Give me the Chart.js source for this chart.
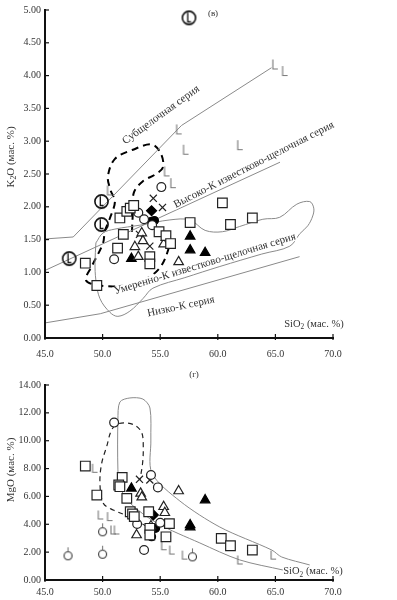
<!DOCTYPE html>
<html><head><meta charset="utf-8">
<script src="https://cdn.jsdelivr.net/npm/chart.js@4.4.0/dist/chart.umd.min.js"></script>
<style>
html,body{margin:0;padding:0;background:#fff;width:397px;height:600px;overflow:hidden}
#c1{position:absolute;left:0;top:0}
#c2{position:absolute;left:0;top:365px}
</style></head><body>
<canvas id="c1" width="397" height="365"></canvas>
<canvas id="c2" width="397" height="235"></canvas>
<script>
// ---------- DATA ----------
const xTicks = [45, 50, 55, 60, 65, 70];
const k2oTicks = [0, 0.5, 1, 1.5, 2, 2.5, 3, 3.5, 4, 4.5, 5];
const mgoTicks = [0, 2, 4, 6, 8, 10, 12, 14];

// Panel (в): K2O vs SiO2
const k2oSquares = [[48.5,1.14],[49.5,0.80],[51.3,1.37],[51.5,1.83],[51.8,1.58],[52.1,1.93],[52.4,1.98],[52.7,2.02],[54.1,1.24],[54.1,1.13],[54.9,1.62],[55.5,1.56],[55.9,1.44],[57.6,1.76],[60.4,2.06],[61.1,1.73],[63.0,1.83]];
const k2oCircles = [[51.0,1.20],[53.1,1.91],[53.6,1.81],[54.3,1.72],[55.1,2.30]];
const k2oCircleL = [[47.1,1.21],[49.9,2.08],[49.9,1.73],[57.5,4.88]];
const k2oTriOpen = [[52.8,1.39],[53.1,1.24],[53.4,1.60],[53.5,1.48],[55.3,1.43],[55.5,1.53],[56.6,1.16]];
const k2oTriFilled = [[52.5,1.21],[57.6,1.55],[57.6,1.34],[58.9,1.30]];
const k2oDiamond = [[54.25,1.94]];
const k2oDots = [[54.25,1.78],[54.5,1.79]];
const k2oCross = [[54.4,2.13],[55.2,1.99],[54.1,1.40],[53.2,1.58]];
const k2oL = [[50.6,2.25],[55.55,2.54],[56.1,2.36],[56.6,3.18],[57.2,2.87],[61.9,2.94],[64.95,4.17],[65.8,4.07]];

const subalkLine = [[45,1.51],[47.45,1.54],[56.85,3.24],[64.66,4.12]];
const highKLine = [[45,1.03],[65.4,2.68]];
const lowKLine = [[45,0.23],[49.8,0.37],[67.1,1.24]];
const k2oField = [[49.42,1.45],[50.03,1.60],[51.07,1.66],[53.24,1.72],[55.84,1.80],[57.58,1.80],[58.9,1.64],[60.4,1.62],[61.9,1.70],[63.91,1.81],[65.38,1.84],[66.86,2.04],[67.98,2.08],[68.33,1.98],[68.24,1.86],[67.81,1.71],[67.12,1.59],[66.25,1.40],[63.82,1.28],[60.18,1.09],[57.14,0.92],[54.37,0.76],[53.50,0.60],[52.37,0.41],[51.33,0.33],[50.64,0.39],[49.77,0.60],[49.42,0.88],[49.34,1.15],[49.42,1.45]];
const k2oDash = [[52.55,1.62],[52.63,1.93],[52.72,2.22],[53.50,2.39],[54.54,2.49],[55.23,2.60],[55.06,2.81],[54.28,2.95],[52.63,2.87],[51.07,2.73],[50.46,2.46],[50.70,2.25],[51.07,2.08],[50.64,1.83],[50.20,1.63],[50.03,1.44],[49.08,1.10],[48.56,0.88],[49.77,0.80],[51.94,0.80],[53.85,0.91],[54.97,1.07],[55.67,1.33],[55.84,1.56]];

// Panel (г): MgO vs SiO2
const mgoSquares = [[48.5,8.18],[49.5,6.10],[51.7,7.37],[51.4,6.82],[51.5,6.70],[52.1,5.86],[52.4,4.90],[52.6,4.74],[52.75,4.55],[54.0,4.90],[54.1,3.71],[54.1,3.23],[55.5,3.10],[55.8,4.05],[60.3,2.99],[61.1,2.46],[63.0,2.15]];
const mgoCircles = [[51.0,11.3],[53.0,4.02],[53.6,2.15],[54.2,7.54],[54.8,6.65],[55.0,4.11]];
const mgoCircleL = [[47.0,1.92],[50.0,2.03],[50.0,3.64],[57.8,1.84]];
const mgoTriOpen = [[53.3,6.22],[53.4,5.95],[55.3,5.26],[55.4,4.83],[52.95,3.23],[54.2,3.88],[56.6,6.39]];
const mgoTriFilled = [[52.5,6.58],[57.6,3.95],[57.6,3.80],[58.9,5.74]];
const mgoDiamond = [[54.4,4.67]];
const mgoDots = [[54.6,3.71],[54.25,3.11]];
const mgoCross = [[53.2,7.23],[54.1,7.18]];
const mgoL = [[49.3,8.02],[49.8,4.67],[50.6,4.55],[50.9,3.59],[51.2,3.59],[55.3,2.46],[56.0,2.15],[57.1,1.79],[61.9,1.44],[64.8,1.79]];

const mgoField = [[65.64,0.72],[61.91,1.44],[58.44,2.66],[54.71,4.09],[52.37,5.53],[51.50,6.68],[51.33,7.90],[51.33,11.49],[51.50,12.78],[52.37,13.07],[53.50,12.99],[54.11,12.35],[54.19,10.05],[54.28,7.68],[56.71,5.67],[60.18,3.80],[64.69,2.15],[65.55,1.65],[67.98,1.08]];
const mgoDash = [[53.82,3.83],[52.66,4.43],[50.92,5.03],[50.06,5.51],[49.77,6.94],[49.92,8.38],[50.35,9.57],[50.78,10.77],[51.33,11.20],[52.11,11.27],[52.89,11.06],[53.41,10.55],[53.53,9.57],[53.47,8.38],[53.24,7.18]];

// text labels anchored in data coords
const k2oSeriesLabels = [
  {text:'Субщелочная серия', x:55.06, y:3.40, angle:-36},
  {text:'Высоко-К известково-щелочная серия', x:63.13, y:2.64, angle:-27},
  {text:'Умеренно-К известково-щелочная серия', x:58.88, y:1.13, angle:-17},
  {text:'Низко-К серия', x:56.80, y:0.48, angle:-12}
];

// ---------- RENDERING ----------
const serif = "'Liberation Serif','Times New Roman',serif";
Chart.defaults.font.family = serif;

function lGlyph(h){
  const c=document.createElement('canvas'); c.width=8; c.height=h+4;
  const g=c.getContext('2d'); g.strokeStyle='#777'; g.lineWidth=1.1;
  g.beginPath(); g.moveTo(2,2); g.lineTo(2,h+1.5); g.lineTo(7,h+1.5); g.stroke();
  return c;
}
function circleLBig(){
  const c=document.createElement('canvas'); c.width=17; c.height=17;
  const g=c.getContext('2d'); g.strokeStyle='#111'; g.lineWidth=1.6;
  g.beginPath(); g.arc(8.5,8.5,6.6,0,Math.PI*2); g.stroke();
  g.lineWidth=1.3; g.beginPath(); g.moveTo(7.3,3.2); g.lineTo(7.3,12.5); g.lineTo(10.5,12.5); g.stroke();
  return c;
}
function circleLSmall(){
  const c=document.createElement('canvas'); c.width=11; c.height=16;
  const g=c.getContext('2d'); g.strokeStyle='#333'; g.lineWidth=1.1;
  g.beginPath(); g.arc(5.5,10.5,4,0,Math.PI*2); g.stroke();
  g.strokeStyle='#777'; g.beginPath(); g.moveTo(5.5,2); g.lineTo(5.5,6.5); g.stroke();
  return c;
}
const pts = a => a.map(p=>({x:p[0], y:p[1]}));
function mark(data, style, o){
  return Object.assign({data:pts(data), pointStyle:style, showLine:false, order:0,
    pointBorderColor:'#222', pointBackgroundColor:'#fff', pointBorderWidth:1.2}, o);
}
function curve(data, o){
  return Object.assign({data:pts(data), showLine:true, pointRadius:0, order:1, isCurve:true,
    borderColor:'#8a8a8a', borderWidth:1, tension:0, fill:false}, o);
}
function subText(ctx, parts, size){
  // returns width; draws from x=0 baseline middle
  let w=0;
  parts.forEach(p=>{ctx.font=(p.sub?size*0.7:size)+'px '+serif; w+=ctx.measureText(p.t).width;});
  let x=-w/2;
  parts.forEach(p=>{ctx.font=(p.sub?size*0.7:size)+'px '+serif; ctx.fillText(p.t,x,p.sub?size*0.3:0); x+=ctx.measureText(p.t).width;});
}
function makePlugin(cfg){
  let drawn=0;
  return {
    id:'annot'+cfg.id,
    beforeDatasetsDraw(){drawn=0;},
    afterDatasetDraw(chart,args){
      const d=chart.data.datasets[args.index];
      if(!d.isCurve) return;
      drawn++;
      const total=chart.data.datasets.filter(z=>z.isCurve).length;
      if(drawn!==total) return;
      const ctx=chart.ctx, xs=chart.scales.x, ys=chart.scales.y;
      (cfg.labels||[]).forEach(l=>{
        ctx.save();
        ctx.translate(xs.getPixelForValue(l.x), ys.getPixelForValue(l.y));
        ctx.rotate(l.angle*Math.PI/180);
        ctx.font='11px '+serif; ctx.textAlign='left'; ctx.textBaseline='middle';
        const w=ctx.measureText(l.text).width;
        ctx.fillStyle='#fff'; ctx.fillRect(-w/2-1,-4.5,w+2,9);
        ctx.fillStyle='#333'; ctx.fillText(l.text,-w/2,0);
        ctx.restore();
      });
    },
    afterDraw(chart){
      const ctx=chart.ctx, a=chart.chartArea, xs=chart.scales.x, ys=chart.scales.y;
      ctx.save();
      ctx.strokeStyle='#111'; ctx.lineWidth=2;
      ctx.beginPath(); ctx.moveTo(a.left,a.top-1); ctx.lineTo(a.left,a.bottom); ctx.lineTo(a.right+1,a.bottom); ctx.stroke();
      ctx.lineWidth=1.2;
      cfg.yTicks.forEach(v=>{const y=ys.getPixelForValue(v); ctx.beginPath(); ctx.moveTo(a.left-1,y); ctx.lineTo(a.left+4,y); ctx.stroke();});
      xTicks.forEach(v=>{const x=xs.getPixelForValue(v); ctx.beginPath(); ctx.moveTo(x,a.bottom+2); ctx.lineTo(x,a.bottom-4); ctx.stroke();});
      ctx.fillStyle='#333'; ctx.textBaseline='middle';
      // y title
      ctx.save(); ctx.translate(11, cfg.yTitleY); ctx.rotate(-Math.PI/2);
      subText(ctx, cfg.yTitle, 11); ctx.restore();
      // x title inside plot
      ctx.save(); ctx.translate(cfg.xTitlePos[0], cfg.xTitlePos[1]);
      subText(ctx, [{t:'SiO'},{t:'2',sub:true},{t:' (мас. %)'}], 10.5); ctx.restore();
      // panel label
      ctx.font='9px '+serif; ctx.textAlign='center';
      ctx.fillText(cfg.panel, cfg.panelPos[0], cfg.panelPos[1]);
      ctx.restore();
    }
  };
}
function makeChart(id, cfg){
  const yt=cfg.yTicks;
  return new Chart(document.getElementById(id), {
    type:'scatter',
    data:{datasets:cfg.datasets},
    options:{
      responsive:false, animation:false, events:[],
      layout:{padding:{left:0, top:cfg.padTop, right:64, bottom:0}},
      plugins:{legend:{display:false}, tooltip:{enabled:false}},
      scales:{
        x:{type:'linear', min:45, max:70,
          afterBuildTicks:s=>{s.ticks=xTicks.map(v=>({value:v}));},
          afterFit:s=>{s.height=cfg.xAxisH;},
          ticks:{callback:v=>Number(v).toFixed(1), font:{size:10, family:serif}, color:'#333', padding:cfg.xPad, maxRotation:0, autoSkip:false},
          grid:{display:false, drawTicks:false}, border:{display:false}},
        y:{type:'linear', min:yt[0], max:yt[yt.length-1],
          afterBuildTicks:s=>{s.ticks=yt.map(v=>({value:v}));},
          afterFit:s=>{s.width=45;},
          ticks:{callback:v=>Number(v).toFixed(2), font:{size:10, family:serif}, color:'#333', padding:4, autoSkip:false},
          grid:{display:false, drawTicks:false}, border:{display:false}}
      }
    },
    plugins:[makePlugin(cfg)]
  });
}
function markerSets(sq, ci, cl, tro, trf, dia, dot, cr, L, big){
  return [
    mark(sq,'rect',{pointRadius:6.8}),
    mark(tro,'triangle',{pointRadius:5.5}),
    mark(ci,'circle',{pointRadius:4.4}),
    mark(trf,'triangle',{pointRadius:5.5, pointBackgroundColor:'#000', pointBorderColor:'#000'}),
    mark(dia,'rectRot',{pointRadius:5, pointBackgroundColor:'#000', pointBorderColor:'#000'}),
    mark(dot,'circle',{pointRadius:4, pointBackgroundColor:'#000', pointBorderColor:'#000'}),
    mark(cr,'crossRot',{pointRadius:5}),
    mark(L, lGlyph(big?10:9), {pointRadius:6}),
    mark(cl, big?circleLBig():circleLSmall(), {pointRadius:8})
  ];
}

makeChart('c1', {
  id:1, yTicks:k2oTicks, padTop:7, xAxisH:27, xPad:10, yTitleY:157,
  yTitle:[{t:'K'},{t:'2',sub:true},{t:'O (мас. %)'}],
  xTitlePos:[314,324], panel:'(в)', panelPos:[213,14],
  labels:k2oSeriesLabels,
  datasets:[
    curve(subalkLine), curve(highKLine), curve(lowKLine),
    curve(k2oField,{tension:0.35}),
    curve(k2oDash,{borderColor:'#000', borderWidth:2, borderDash:[7,5], tension:0.35}),
    ...markerSets(k2oSquares,k2oCircles,k2oCircleL,k2oTriOpen,k2oTriFilled,k2oDiamond,k2oDots,k2oCross,k2oL,true)
  ]
});
makeChart('c2', {
  id:2, yTicks:mgoTicks, padTop:20, xAxisH:20, xPad:6, yTitleY:105,
  yTitle:[{t:'MgO (мас. %)'}],
  xTitlePos:[313,206.5], panel:'(г)', panelPos:[194,10],
  labels:[],
  datasets:[
    curve(mgoField,{tension:0.3}),
    curve(mgoDash,{borderColor:'#222', borderWidth:1.2, borderDash:[5,4], tension:0.35}),
    ...markerSets(mgoSquares,mgoCircles,mgoCircleL,mgoTriOpen,mgoTriFilled,mgoDiamond,mgoDots,mgoCross,mgoL,false)
  ]
});
</script>
</body></html>
